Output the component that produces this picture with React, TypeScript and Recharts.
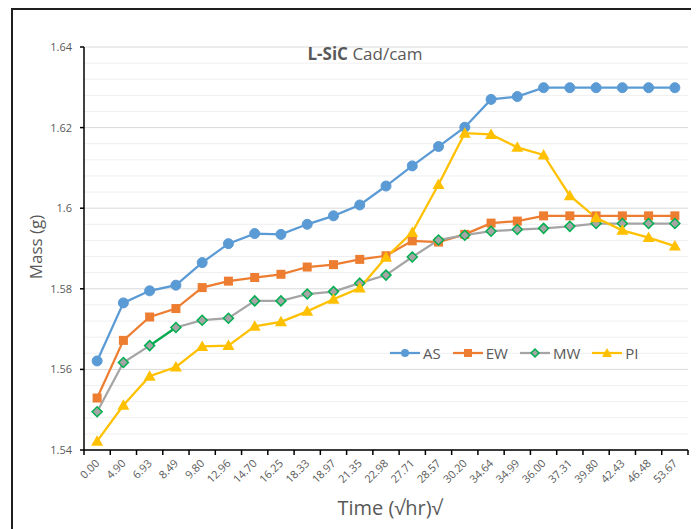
import React from 'react';
import { LineChart, Line, XAxis, YAxis, CartesianGrid, ReferenceLine } from 'recharts';

const categories = ['0.00','4.90','6.93','8.49','9.80','12.96','14.70','16.25','18.33','18.97','21.35','22.98','27.71','28.57','30.20','34.64','34.99','36.00','37.31','39.80','42.43','46.48','53.67'];
const asValues = [1.5621,1.5765,1.5795,1.5809,1.5865,1.5912,1.5937,1.5935,1.5960,1.5981,1.6008,1.6055,1.6105,1.6153,1.6201,1.6270,1.6277,1.6299,1.6299,1.6299,1.6299,1.6299,1.6299];
const ewValues = [1.5529,1.5672,1.5730,1.5751,1.5803,1.5819,1.5828,1.5836,1.5854,1.5860,1.5873,1.5882,1.5919,1.5916,1.5935,1.5963,1.5968,1.5981,1.5981,1.5981,1.5981,1.5981,1.5981];
const mwValues = [1.5495,1.5617,1.5659,1.5704,1.5722,1.5727,1.5770,1.5770,1.5787,1.5793,1.5814,1.5834,1.5879,1.5921,1.5933,1.5943,1.5947,1.5950,1.5955,1.5962,1.5962,1.5962,1.5962];
const piValues = [1.5422,1.5511,1.5583,1.5606,1.5657,1.5659,1.5707,1.5718,1.5744,1.5774,1.5802,1.5878,1.5940,1.6059,1.6186,1.6183,1.6151,1.6132,1.6031,1.5976,1.5945,1.5927,1.5906];
const mwHighlightIdx = [2, 3];
const yTicks = [1.54, 1.56, 1.58, 1.6, 1.62, 1.64];
const minorGrid = [1.544,1.548,1.552,1.556,1.564,1.568,1.572,1.576,1.584,1.588,1.592,1.596,1.604,1.608,1.612,1.616,1.624,1.628,1.632,1.636];

const C_AS = '#5B9BD5';
const C_EW = '#ED7D31';
const C_MW = '#A5A5A5';
const C_MWE = '#00B050';
const C_PI = '#FFC000';
const TXT = '#595959';
const FONT = "'Open Sans', sans-serif";

const PLOT_W = 604;
const BAND = PLOT_W / categories.length;

const data = categories.map((c, i) => ({
  time: c,
  AS: asValues[i],
  EW: ewValues[i],
  MW: mwValues[i],
  PI: piValues[i],
  MWG: mwHighlightIdx.includes(i) ? mwValues[i] : null,
}));

const circleDot = (p: any) => <circle key={p.index} cx={p.cx} cy={p.cy} r={5} fill={C_AS} stroke={C_AS} />;
const squareDot = (p: any) => <rect key={p.index} x={p.cx - 4.5} y={p.cy - 4.5} width={9} height={9} fill={C_EW} />;
const diamondDot = (p: any) => (
  <path key={p.index} d={`M${p.cx},${p.cy - 5} L${p.cx + 5},${p.cy} L${p.cx},${p.cy + 5} L${p.cx - 5},${p.cy} Z`} fill={C_MW} stroke={C_MWE} strokeWidth={1.5} />
);
const triDot = (p: any) => (
  <path key={p.index} d={`M${p.cx},${p.cy - 6} L${p.cx + 6},${p.cy + 4.5} L${p.cx - 6},${p.cy + 4.5} Z`} fill={C_PI} />
);

const XTick = (props: any) => {
  const { x, y, payload, index, visibleTicksCount } = props;
  const l = x - BAND / 2;
  const r = x + BAND / 2;
  const tx = x + 3;
  const ty = y + 14;
  return (
    <g>
      <line x1={l} y1={y} x2={l} y2={y + 5} stroke="#000" strokeWidth={1.5} />
      {index === visibleTicksCount - 1 && <line x1={r} y1={y} x2={r} y2={y + 5} stroke="#000" strokeWidth={1.5} />}
      <text x={tx} y={ty} transform={`rotate(-45, ${tx}, ${ty})`} textAnchor="end" fontSize={11} fill={TXT} fontFamily={FONT}>
        {payload.value}
      </text>
    </g>
  );
};

const LegendIcon = ({ kind, color }: { kind: string; color: string }) => {
  let marker: React.ReactNode = null;
  if (kind === 'circle') marker = <circle cx={15} cy={7} r={4} fill={color} />;
  if (kind === 'square') marker = <rect x={11} y={3} width={8} height={8} fill={color} />;
  if (kind === 'diamond') marker = <path d="M15,3 L19,7 L15,11 L11,7 Z" fill={C_MW} stroke={C_MWE} strokeWidth={1.5} />;
  if (kind === 'triangle') marker = <path d="M15,2 L20,11 L10,11 Z" fill={color} />;
  return (
    <svg width={30} height={14} style={{ display: 'block' }}>
      <line x1={0} y1={7} x2={30} y2={7} stroke={color} strokeWidth={2.25} />
      {marker}
    </svg>
  );
};

const legendItems = [
  { name: 'AS', kind: 'circle', color: C_AS },
  { name: 'EW', kind: 'square', color: C_EW },
  { name: 'MW', kind: 'diamond', color: C_MW },
  { name: 'PI', kind: 'triangle', color: C_PI },
];

export default function App() {
  return (
    <div style={{ position: 'relative', width: 691, height: 521, background: '#fff' }}>
      <LineChart width={691} height={521} data={data} margin={{ top: 39, right: 11, bottom: 0, left: 0 }}>
        <CartesianGrid vertical={false} stroke="#D9D9D9" strokeWidth={1} />
        {minorGrid.map((v) => (
          <ReferenceLine key={v} y={v} stroke="#EFEFEF" strokeWidth={1} ifOverflow="hidden" />
        ))}
        <XAxis
          dataKey="time"
          height={79}
          interval={0}
          tickSize={0}
          tickMargin={0}
          tickLine={false}
          padding={{ left: BAND / 2, right: BAND / 2 }}
          axisLine={{ stroke: '#000', strokeWidth: 1.5 }}
          tick={<XTick />}
        />
        <YAxis
          width={76}
          domain={[1.54, 1.64]}
          ticks={yTicks}
          allowDataOverflow
          tickSize={4}
          tickMargin={8}
          tickLine={{ stroke: '#000', strokeWidth: 1.5 }}
          axisLine={{ stroke: '#000', strokeWidth: 1.5 }}
          tick={{ fontSize: 11, fill: TXT, fontFamily: FONT }}
        />
        <Line type="linear" dataKey="AS" stroke={C_AS} strokeWidth={2.25} dot={circleDot} isAnimationActive={false} />
        <Line type="linear" dataKey="EW" stroke={C_EW} strokeWidth={2.25} dot={squareDot} isAnimationActive={false} />
        <Line type="linear" dataKey="MW" stroke={C_MW} strokeWidth={2.25} dot={false} isAnimationActive={false} />
        <Line type="linear" dataKey="MWG" stroke={C_MWE} strokeWidth={2.25} dot={false} connectNulls={false} isAnimationActive={false} legendType="none" />
        <Line type="linear" dataKey="MW" stroke="none" dot={diamondDot} isAnimationActive={false} legendType="none" />
        <Line type="linear" dataKey="PI" stroke={C_PI} strokeWidth={2.25} dot={triDot} isAnimationActive={false} />
      </LineChart>

      <div style={{ position: 'absolute', left: 3, top: 0, right: 0, bottom: 0, borderTop: '2px solid #1f1f1f', borderLeft: '2px solid #1f1f1f', pointerEvents: 'none' }} />

      <div style={{ position: 'absolute', left: 357, top: 45, transform: 'translate(-50%, -50%)', whiteSpace: 'nowrap', fontFamily: FONT, fontSize: 17, color: TXT }}>
        <b>L-SiC</b> Cad/cam
      </div>

      <div style={{ position: 'absolute', left: 27, top: 239, transform: 'translate(-50%, -50%) rotate(-90deg)', whiteSpace: 'nowrap', fontFamily: FONT, fontSize: 17, color: TXT }}>
        Mass (g)
      </div>

      <div style={{ position: 'absolute', left: 382, top: 499, transform: 'translate(-50%, -50%)', whiteSpace: 'nowrap', fontFamily: FONT, fontSize: 20, color: TXT }}>
        Time (√hr)√
      </div>

      <div style={{ position: 'absolute', left: 382, top: 345, transform: 'translateY(-50%)', display: 'flex', alignItems: 'center', fontFamily: FONT, fontSize: 15, color: TXT }}>
        {legendItems.map((it) => (
          <div key={it.name} style={{ display: 'flex', alignItems: 'center', marginRight: 12 }}>
            <LegendIcon kind={it.kind} color={it.color} />
            <span style={{ marginLeft: 3 }}>{it.name}</span>
          </div>
        ))}
      </div>
    </div>
  );
}
